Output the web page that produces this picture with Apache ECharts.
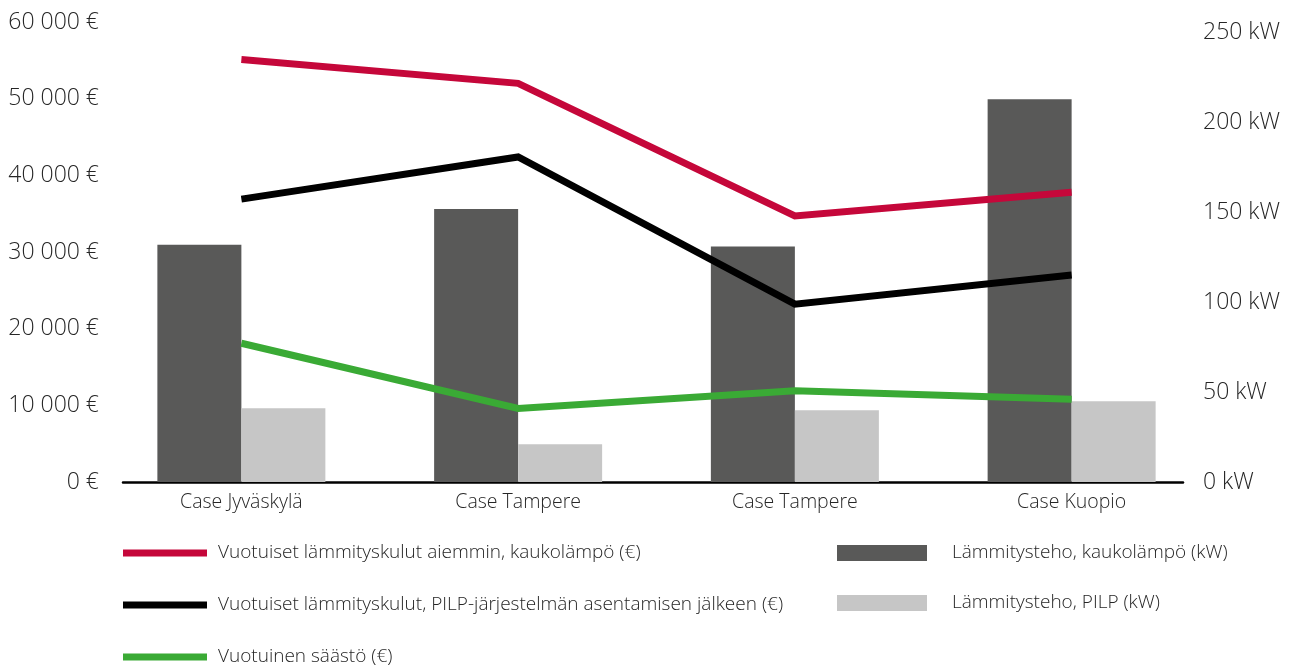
<!DOCTYPE html>
<html>
<head>
<meta charset="utf-8">
<script src="https://cdn.jsdelivr.net/npm/echarts@6/dist/echarts.min.js"></script>
<style>
html,body{margin:0;padding:0;background:#fff;}
#c{width:1290px;height:668px;}
</style>
</head>
<body>
<div id="c"></div>
<script>
const categories = ['Case Jyväskylä', 'Case Tampere', 'Case Tampere', 'Case Kuopio'];
const costBefore = [55100, 52000, 34700, 37800];   // €
const costAfter = [36900, 42400, 23200, 27000];    // €
const saving = [18100, 9600, 11900, 10800];        // €
const powerDH = [132, 152, 131, 213];              // kW
const powerPILP = [41, 21, 40, 45];                // kW
const seriesNames = [
  'Vuotuiset lämmityskulut aiemmin, kaukolämpö (€)',
  'Vuotuiset lämmityskulut, PILP-järjestelmän asentamisen jälkeen (€)',
  'Vuotuinen säästö (€)',
  'Lämmitysteho, kaukolämpö (kW)',
  'Lämmitysteho, PILP (kW)'
];

const FONT = '"Open Sans", sans-serif';
const TXT = '#262626';
const colors = ['#C5073A', '#000000', '#3AAA35', '#595958', '#C6C6C6'];

const chart = echarts.init(document.getElementById('c'));
const lineStyle = (c) => ({ color: c, width: 7, join: 'miter', cap: 'butt' });

chart.setOption({
  animation: false,
  backgroundColor: '#fff',
  textStyle: { fontFamily: FONT },
  grid: [
    { left: 103, right: 80, top: 22, bottom: 186, containLabel: false },
    { left: 123, right: 107, top: 22, bottom: 186, containLabel: false }
  ],
  xAxis: [
    {
      type: 'category', gridIndex: 0, data: categories, boundaryGap: true,
      axisLine: { show: false }, axisTick: { show: false },
      axisLabel: { color: TXT, fontSize: 19.5, fontWeight: 300, margin: 10, fontFamily: FONT }
    },
    {
      type: 'value', gridIndex: 1, min: 0, max: 1,
      axisLine: { show: true, onZero: false, lineStyle: { color: '#000', width: 2.5 } },
      axisTick: { show: false }, axisLabel: { show: false }, splitLine: { show: false }
    }
  ],
  yAxis: [
    {
      type: 'value', gridIndex: 0, position: 'left', min: 0, max: 60000, interval: 10000,
      axisLine: { show: false }, axisTick: { show: false }, splitLine: { show: false },
      axisLabel: {
        color: TXT, fontSize: 23, fontWeight: 300, margin: 4, fontFamily: FONT,
        formatter: v => (v === 0 ? '0' : (v / 1000) + ' 000') + ' €'
      }
    },
    {
      type: 'value', gridIndex: 0, position: 'right', min: 0, max: 256, interval: 50,
      axisLine: { show: false }, axisTick: { show: false }, splitLine: { show: false },
      axisLabel: {
        color: TXT, fontSize: 23, fontWeight: 300, margin: -7, fontFamily: FONT,
        showMaxLabel: false,
        formatter: v => (v % 50 === 0 ? v + ' kW' : '')
      }
    },
    {
      type: 'value', gridIndex: 1, min: 0, max: 1, show: false
    }
  ],
  legend: [
    {
      left: 123, top: 543, orient: 'vertical', itemGap: 32, padding: 0,
      itemWidth: 84, itemHeight: 7, icon: 'rect',
      textStyle: { color: TXT, fontSize: 19, lineHeight: 20, fontWeight: 300, fontFamily: FONT, padding: [0, 0, 0, 6] },
      data: seriesNames.slice(0, 3).map((n, i) => ({ name: n, itemStyle: { color: colors[i] } }))
    },
    {
      left: 837, top: 543, orient: 'vertical', itemGap: 30, padding: 0,
      itemWidth: 90, itemHeight: 16, icon: 'rect',
      textStyle: { color: TXT, fontSize: 19, lineHeight: 20, fontWeight: 300, fontFamily: FONT, padding: [0, 0, 0, 20] },
      data: seriesNames.slice(3).map((n, i) => ({ name: n, itemStyle: { color: colors[3 + i] } }))
    }
  ],
  series: [
    {
      name: seriesNames[3], type: 'bar', xAxisIndex: 0, yAxisIndex: 1, data: powerDH,
      barWidth: 84, barGap: '0%', itemStyle: { color: colors[3] }, z: 1
    },
    {
      name: seriesNames[4], type: 'bar', xAxisIndex: 0, yAxisIndex: 1, data: powerPILP,
      barWidth: 84, barGap: '0%', itemStyle: { color: colors[4] }, z: 1
    },
    {
      name: seriesNames[0], type: 'line', xAxisIndex: 0, yAxisIndex: 0, data: costBefore,
      showSymbol: false, symbol: 'none', lineStyle: lineStyle(colors[0]), itemStyle: { color: colors[0] }, z: 3
    },
    {
      name: seriesNames[1], type: 'line', xAxisIndex: 0, yAxisIndex: 0, data: costAfter,
      showSymbol: false, symbol: 'none', lineStyle: lineStyle(colors[1]), itemStyle: { color: colors[1] }, z: 3
    },
    {
      name: seriesNames[2], type: 'line', xAxisIndex: 0, yAxisIndex: 0, data: saving,
      showSymbol: false, symbol: 'none', lineStyle: lineStyle(colors[2]), itemStyle: { color: colors[2] }, z: 3
    }
  ]
});
</script>
</body>
</html>
